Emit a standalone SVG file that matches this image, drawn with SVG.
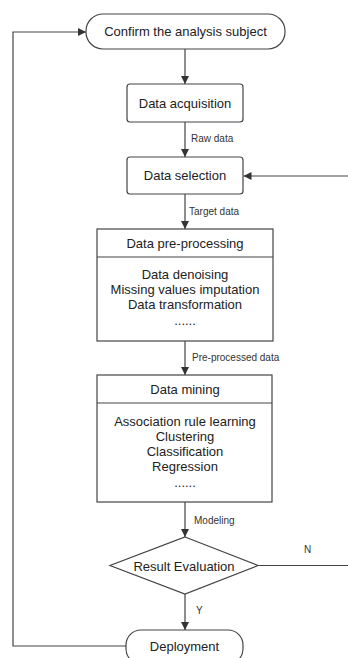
<svg xmlns="http://www.w3.org/2000/svg" width="348" height="658" viewBox="0 0 348 658">
<style>
.n{fill:#fff;stroke:#444;stroke-width:1.2}
.t{font-family:"Liberation Sans",Arial,sans-serif;font-size:13px;fill:#222;text-anchor:middle;dominant-baseline:central}
.l{font-family:"Liberation Sans",Arial,sans-serif;font-size:10px;fill:#333;dominant-baseline:central}
.c{fill:none;stroke:#444;stroke-width:1.2}
</style>
<defs>
<marker id="a" viewBox="0 0 10 10" refX="10" refY="5" markerWidth="8" markerHeight="8" markerUnits="userSpaceOnUse" orient="auto">
<path d="M0,0 L10,5 L0,10 z" fill="#333"/>
</marker>
</defs>
<rect width="348" height="658" fill="#fff"/>
<g id="connectors">
<path class="c" d="M185,49 V84" marker-end="url(#a)"/>
<path class="c" d="M185,122 V157" marker-end="url(#a)"/>
<path class="c" d="M185,194 V229" marker-end="url(#a)"/>
<path class="c" d="M185,341 V375" marker-end="url(#a)"/>
<path class="c" d="M185,502 V537" marker-end="url(#a)"/>
<path class="c" d="M185,594 V630" marker-end="url(#a)"/>
<path class="c" d="M258,565.5 H350 V176 H243.5" marker-end="url(#a)"/>
<path class="c" d="M126,646 H13 V32 H86" marker-end="url(#a)"/>
<text class="l" x="191" y="138">Raw data</text>
<text class="l" x="189" y="211">Target data</text>
<text class="l" x="192" y="357">Pre-processed data</text>
<text class="l" x="194" y="520">Modeling</text>
<text class="l" x="304" y="549">N</text>
<text class="l" x="196" y="610">Y</text>
</g>
<g id="confirm">
<rect class="n" x="86" y="14" width="199" height="35" rx="17" ry="17"/>
<text class="t" x="185.5" y="31.5">Confirm the analysis subject</text>
</g>
<g id="acquisition">
<rect class="n" x="127" y="84" width="116" height="38" rx="3"/>
<text class="t" x="185" y="103">Data acquisition</text>
</g>
<g id="selection">
<rect class="n" x="127" y="157" width="116" height="37" rx="3"/>
<text class="t" x="185" y="175.5">Data selection</text>
</g>
<g id="preprocessing">
<rect class="n" x="97" y="229" width="176" height="112"/>
<line class="c" x1="97" y1="257" x2="273" y2="257"/>
<text class="t" x="185" y="243">Data pre-processing</text>
<text class="t" x="185" y="274">Data denoising</text>
<text class="t" x="185" y="289">Missing values imputation</text>
<text class="t" x="185" y="304">Data transformation</text>
<text class="t" x="185" y="320">......</text>
</g>
<g id="mining">
<rect class="n" x="97" y="375" width="175" height="127"/>
<line class="c" x1="97" y1="403" x2="272" y2="403"/>
<text class="t" x="185" y="389">Data mining</text>
<text class="t" x="185" y="421">Association rule learning</text>
<text class="t" x="185" y="436">Clustering</text>
<text class="t" x="185" y="451">Classification</text>
<text class="t" x="185" y="466">Regression</text>
<text class="t" x="185" y="482">......</text>
</g>
<g id="evaluation">
<polygon class="n" points="185,537 258,565.5 185,594 110,565.5"/>
<text class="t" x="184" y="566">Result Evaluation</text>
</g>
<g id="deployment">
<rect class="n" x="126" y="630" width="117" height="34" rx="15" ry="15"/>
<text class="t" x="184.5" y="646">Deployment</text>
</g>
</svg>
